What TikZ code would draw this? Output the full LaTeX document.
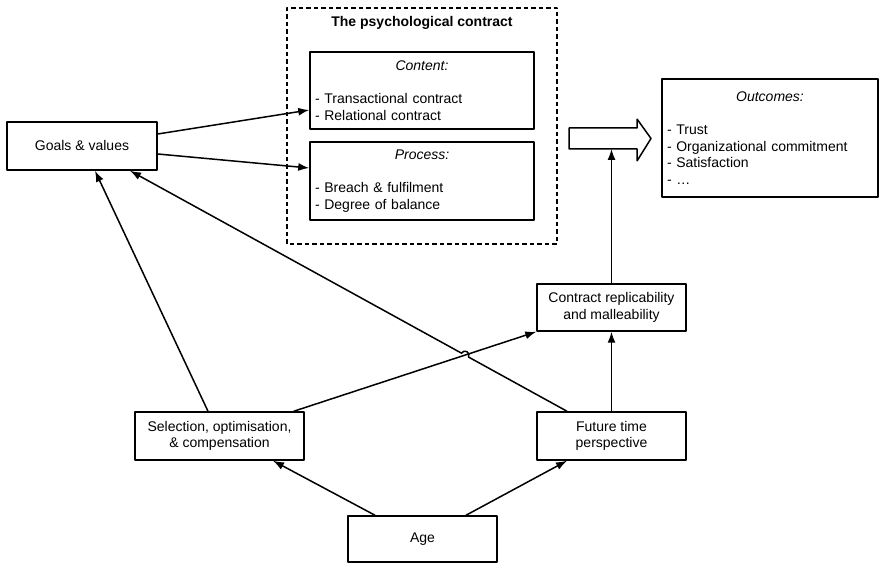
\documentclass[tikz,border=0pt]{standalone}
\usepackage{fontspec}
\setmainfont{Liberation Sans}
\usetikzlibrary{arrows.meta,calc,intersections}
\tikzset{
  box/.style={draw,rectangle,inner sep=5bp,align=center},
  listbox/.style={draw,rectangle,inner sep=5bp,align=left},
}
\begin{document}
\begin{tikzpicture}[>={Latex[length=11bp,width=8bp]},line join=bevel,
  font=\fontsize{14bp}{16.5bp}\selectfont]
  \pgfsetlinewidth{1.5bp}
  \useasboundingbox (0bp,0bp) rectangle (880bp,564bp);
%%
  % Frame: The psychological contract
  \draw [dash pattern=on 4.5bp off 3bp] (287bp,320bp) rectangle (557bp,556bp);
  \node [font=\fontsize{14bp}{16.5bp}\selectfont\bfseries] (pctitle) at (422bp,541bp) {The psychological contract};
  % Node: Content
  \node [listbox,text width=214bp,minimum height=77bp] (content) at (422bp,473.5bp)
    {\makebox[\linewidth]{\itshape Content:}\\[16.5bp]- Transactional contract\\- Relational contract};
  % Node: Process
  \node [listbox,text width=214bp,minimum height=78bp] (process) at (422bp,383bp)
    {\makebox[\linewidth]{\itshape Process:}\\[16.5bp]- Breach \& fulfilment\\- Degree of balance};
  % Node: Outcomes
  \node [listbox,text width=206bp,minimum height=118bp] (outcomes) at (770bp,426bp)
    {\makebox[\linewidth]{\itshape Outcomes:}\\[16.5bp]- Trust\\- Organizational commitment\\- Satisfaction\\- \dots};
  % Node: Goals
  \node [box,minimum width=150bp,minimum height=48bp] (goals) at (82bp,418bp) {Goals \& values};
  % Node: Contract
  \node [box,minimum width=149bp,minimum height=47bp] (contract) at (611.5bp,256.5bp) {Contract replicability\\and malleability};
  % Node: Future
  \node [box,minimum width=149bp,minimum height=48bp] (future) at (611.5bp,128bp) {Future time\\perspective};
  % Node: Selection
  \node [box,minimum width=169bp,minimum height=48bp] (selection) at (219.5bp,128bp) {Selection, optimisation,\\\& compensation};
  % Node: Age
  \node [box,minimum width=149bp,minimum height=46bp] (age) at (422.5bp,25bp) {Age};
  % Big arrow: contract -> outcomes
  \draw (569bp,436bp) -- (637bp,436bp) -- (637bp,445bp) -- (651bp,425.5bp)
    -- (637bp,403bp) -- (637bp,415bp) -- (569bp,415bp) -- cycle;
  \coordinate (bigarrow) at (611.5bp,415bp);
%
  % Edge: Goals -> Content
  \draw [->] ([yshift=12bp]goals.east) -- ([yshift=-19.5bp]content.west);
  % Edge: Goals -> Process
  \draw [->] ([yshift=-8bp]goals.east) -- ([yshift=13bp]process.west);
  % Edge: Age -> Selection
  \draw [->] ([xshift=-47.5bp]age.north) -- ([xshift=53.5bp]selection.south);
  % Edge: Age -> Future
  \draw [->] ([xshift=43.5bp]age.north) -- ([xshift=-44.5bp]future.south);
  % Edge: Selection -> Goals
  \draw [->] ([xshift=-11.5bp]selection.north) -- ([xshift=13bp]goals.south);
  % Edge: Selection -> Contract
  \draw [->,name path=sc] ([xshift=-11bp]selection.north east) -- (contract.south west);
  % Edge: Future -> Contract
  \draw [->] (future.north) -- (contract.south);
  % Edge: Contract -> Outcomes
  \draw [->] (contract.north) -- (bigarrow);
  % Edge: Future -> Goals (hops over Selection -> Contract)
  \path [name path=fg] ([xshift=-44.5bp]future.north) -- ([xshift=48bp]goals.south);
  \path [name intersections={of=sc and fg,by=hop}];
  \draw [->] ([xshift=-44.5bp]future.north) -- ($(hop)!4bp!([xshift=-44.5bp]future.north)$)
    arc [start angle=-29,end angle=151,radius=4bp] -- ([xshift=48bp]goals.south);
%
\end{tikzpicture}
\end{document}
